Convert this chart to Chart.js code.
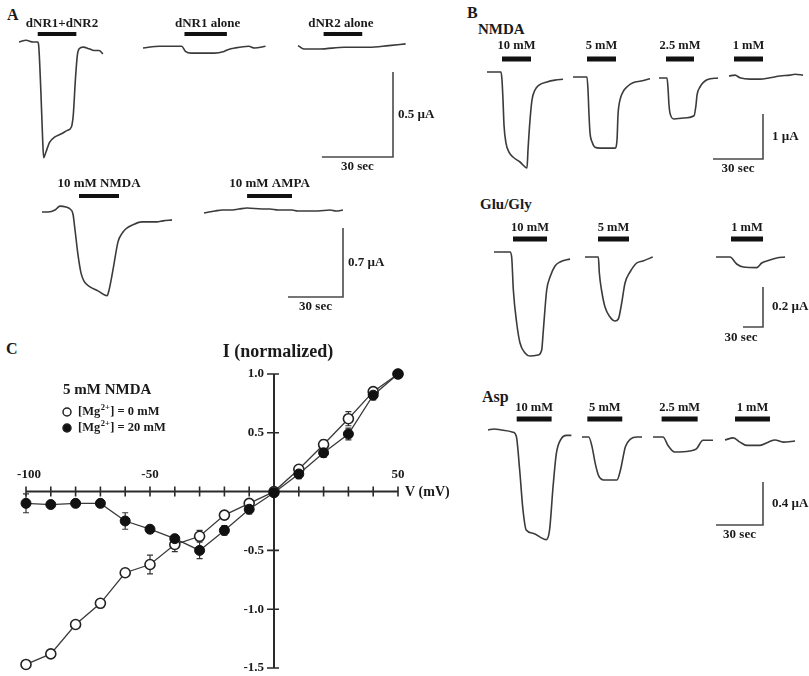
<!DOCTYPE html>
<html>
<head>
<meta charset="utf-8">
<script src="https://cdn.jsdelivr.net/npm/chart.js@4.4.1/dist/chart.umd.min.js"></script>
<style>
  body { margin: 0; background: #fff; }
  #fig { position: relative; width: 809px; height: 676px; overflow: hidden; background: #fff;
         font-family: "Liberation Serif", serif; font-weight: bold; color: #1a1a1a; }
  #fig canvas { position: absolute; }
  .t { position: absolute; white-space: nowrap; line-height: 1; }
</style>
</head>
<body>
<div id="fig">
  <div class="t" style="left:7px;top:7px;font-size:16px">A</div>
  <div class="t" style="left:467px;top:5px;font-size:16px">B</div>
  <div class="t" style="left:6px;top:341px;font-size:16px">C</div>
  <div class="t" style="left:478px;top:22px;font-size:15px">NMDA</div>
  <div class="t" style="left:480px;top:197px;font-size:15px">Glu/Gly</div>
  <div class="t" style="left:482px;top:389px;font-size:16px">Asp</div>
</div>
<script>
'use strict';

// ---- current traces: [time (sec), current (uA) relative to baseline] ----
var A_DNR12 = [[0,0],[3,0.01],[6,0],[7.9,0],[8.3,-0.02],[9.2,-0.28],[10,-0.58],[10.4,-0.68],[11.3,-0.65],
  [12.9,-0.59],[15,-0.56],[17.9,-0.54],[20.4,-0.52],[22.1,-0.5],[22.9,-0.43],[23.8,-0.22],[24.6,-0.08],
  [25.4,-0.04],[27.1,-0.03],[29.6,-0.04],[31.7,-0.05],[33.8,-0.05],[35.4,-0.07]];
var A_DNR1  = [[0,0],[7.1,0.01],[13.3,0.01],[16.3,0.01],[17.9,-0.02],[20.4,-0.03],[23.8,-0.03],[30,-0.03],
  [34.2,-0.02],[35.8,-0.01],[38.8,0],[44.6,0.01],[47.1,0],[51.7,0.01]];
var A_DNR2  = [[0,0.02],[2.5,0],[9.2,0],[19.6,0.01],[30,0.01],[38.3,0.02],[45.4,0.03]];
var A_NMDA  = [[0,0],[3.3,0],[7.1,0.02],[9.8,0.06],[13.1,0.05],[15.3,0.03],[16.9,-0.02],[18,-0.18],
  [19.6,-0.43],[21.3,-0.62],[22.9,-0.70],[26.2,-0.76],[30.5,-0.80],[35.5,-0.85],[36.6,-0.79],[38.7,-0.59],
  [41.5,-0.30],[43.6,-0.22],[45.8,-0.17],[49.6,-0.13],[54.5,-0.10],[58.9,-0.10],[62.7,-0.10],[66,-0.09],[70.9,-0.08]];
var A_AMPA  = [[0,-0.02],[6,0],[10,0.01],[14.2,0.01],[19,0.02],[23.5,0.03],[31.6,0.02],[36,0.02],[40.4,0.01],
  [48,0.01],[51,0],[55.1,0],[62.2,0],[68.7,0.01],[72,0],[75.8,0.01]];

var B_NMDA10 = [[0,0],[4.8,0],[8.4,0],[9,-0.18],[9.6,-0.62],[10.2,-1.18],[11.4,-1.58],[13.2,-1.78],[15.6,-1.89],
  [19.8,-2.0],[24,-2.13],[24.6,-1.73],[25.8,-1.07],[27,-0.62],[28.8,-0.4],[31.2,-0.29],[36,-0.22],[40.8,-0.18],[45.6,-0.16]];
var B_NMDA5  = [[0,0],[4.2,0],[8.4,0],[9,-0.29],[9.6,-0.84],[10.2,-1.24],[11.4,-1.44],[13.2,-1.56],[16.2,-1.58],
  [21,-1.58],[25.2,-1.58],[26.4,-1.4],[27,-0.84],[28.2,-0.51],[30,-0.33],[33,-0.2],[36,-0.13],[40.8,-0.09],[46.2,-0.04]];
var B_NMDA25 = [[0,0],[4.8,0],[5.4,-0.22],[6,-0.6],[6.6,-0.78],[9,-0.91],[14.4,-0.89],[21,-0.84],[22.2,-0.6],
  [22.8,-0.38],[24.6,-0.2],[28.8,-0.04],[35.4,0]];
var B_NMDA1  = [[0,0],[3.6,0.02],[6.6,-0.04],[12.6,-0.07],[18.6,-0.07],[24.6,-0.04],[30.6,0],[36.6,0.02],[39.6,0.04],[44.4,0.02]];

var B_GLU10 = [[0,0],[24,0],[26.5,-0.025],[29,-0.19],[34,-0.355],[39,-0.455],[46.5,-0.505],[54,-0.52],[66,-0.515],
  [71.5,-0.49],[74,-0.39],[79,-0.19],[84,-0.125],[91.5,-0.07],[99,-0.05],[114,-0.035]];
var B_GLU5  = [[0,0],[20,0],[21.5,-0.08],[25,-0.17],[30,-0.25],[37.5,-0.3],[45,-0.32],[50,-0.31],[55,-0.23],
  [60,-0.13],[67.5,-0.075],[77.5,-0.03],[87,-0.02],[101.5,0]];
var B_GLU1  = [[0,0],[21,0],[31,-0.035],[41,-0.05],[61,-0.053],[68.5,-0.03],[78.5,-0.017],[91,-0.005],[103.5,0]];

var B_ASP10 = [[0,0],[4,0.01],[8.5,0],[15.9,-0.02],[18.1,-0.06],[20.2,-0.37],[22.3,-0.74],[24.4,-0.93],[28.7,-0.96],
  [37.2,-1.02],[39.3,-0.93],[41.5,-0.53],[43.6,-0.22],[46.8,-0.08],[50,-0.05],[53.2,-0.05]];
var B_ASP5  = [[0,0],[4.3,0],[6.4,-0.09],[8.5,-0.25],[10.6,-0.36],[13.8,-0.4],[18.1,-0.4],[22.3,-0.4],[24.5,-0.31],
  [27.7,-0.09],[30.9,-0.02],[35.1,0],[38.3,0]];
var B_ASP25 = [[0,0],[6.4,0],[9.6,-0.08],[13.8,-0.14],[23.4,-0.13],[27.7,-0.11],[31.9,-0.03],[38.3,-0.03]];
var B_ASP1  = [[0,0],[5.3,0.02],[9.6,-0.02],[13.8,-0.05],[22.3,-0.05],[27.6,-0.02],[31.9,0],[37.2,-0.02],[44.7,-0.01]];

// ---- agonist application periods (sec from trace start) and their labels ----
var A1_BARS   = [[7.9,24.2],[17.5,35.4],[10.8,27.1]];
var A1_LABELS = ['dNR1+dNR2', 'dNR1 alone', 'dNR2 alone'];
var A2_BARS   = [[20.2,42.0],[23.5,48.0]];
var A2_LABELS = ['10 mM NMDA', '10 mM AMPA'];
var B1_BARS   = [[9.0,26.4],[8.4,25.8],[4.2,21.0],[3.0,20.4]];
var B1_LABELS = ['10 mM', '5 mM', '2.5 mM', '1 mM'];
var B2_BARS   = [[28.5,79.5],[19.5,66],[22.5,70.5]];
var B2_LABELS = ['10 mM', '5 mM', '1 mM'];
var B3_BARS   = [[18.3,40.6],[3.4,25.7],[5.5,28.5],[6.4,28.7]];
var B3_LABELS = ['10 mM', '5 mM', '2.5 mM', '1 mM'];

// ---- scale bars ----
var SCALE_SEC = 30;
var SCALE_UA  = [0.5, 0.7, 1, 0.2, 0.4];

// ---- I-V relation (panel C) ----
var IV_V        = [-100,-90,-80,-70,-60,-50,-40,-30,-20,-10,0,10,20,30,40,50];
var IV_MG0      = [-1.47,-1.38,-1.13,-0.95,-0.69,-0.62,-0.45,-0.38,-0.20,-0.10,0.0,0.19,0.40,0.62,0.85,1.0];
var IV_MG0_SEM  = [0,0,0,0,0,0.08,0.06,0.05,0,0,0,0.03,0.04,0.06,0.03,0];
var IV_MG20     = [-0.10,-0.11,-0.10,-0.10,-0.25,-0.32,-0.40,-0.50,-0.33,-0.15,-0.01,0.15,0.33,0.49,0.82,1.0];
var IV_MG20_SEM = [0.08,0.03,0.02,0,0.07,0.02,0.03,0.07,0.04,0.04,0,0.04,0.04,0.05,0.04,0];
var IV_XTICKS   = [-100,-90,-80,-70,-60,-50,-40,-30,-20,-10,0,10,20,30,40,50];
var IV_XLABELS  = [-100,-50,50];
var IV_YTICKS   = [1.0,0.5,-0.5,-1.0,-1.5];

// ---- layout (page pixels) ----
var FONT = '"Liberation Serif", serif';
var TEXT_COLOR  = '#1a1a1a';
var TRACE_COLOR = '#3b3b3b';

var ROWS = {
  A1: { left: 0,   top: 0,   width: 460, height: 175, pps: 2.37,  ppu: 170,   barY: 34,  barW: 4, labelGap: 10, font: 13 },
  A2: { left: 0,   top: 175, width: 440, height: 150, pps: 1.833, ppu: 98.6,  barY: 196, barW: 4, labelGap: 12, font: 13 },
  B1: { left: 470, top: 0,   width: 339, height: 185, pps: 1.667, ppu: 45,    barY: 59,  barW: 5, labelGap: 13, font: 12.5 },
  B2: { left: 470, top: 185, width: 339, height: 175, pps: 0.667, ppu: 200,   barY: 239, barW: 5, labelGap: 11, font: 12.5 },
  B3: { left: 470, top: 360, width: 339, height: 190, pps: 1.567, ppu: 107.5, barY: 419, barW: 5, labelGap: 11, font: 12.5 },
};

// trace left edge / baseline in page pixels, label nudges
var A1_POS = [[19,42],[143,48],[298,49]];
var A1_NUDGE = [5, 2, -2];
var A2_POS = [[42,212],[204,211]];
var B1_POS = [[487,72],[573,77],[659,78],[729,76]];
var B2_POS = [[494,252],[585,257],[716,257]];
var B3_POS = [[488,430],[582,437],[653,437],[725,440]];

function addCanvas(left, top, w, h) {
  var cv = document.createElement('canvas');
  cv.width = w; cv.height = h;
  cv.style.left = left + 'px';
  cv.style.top = top + 'px';
  document.getElementById('fig').appendChild(cv);
  return cv;
}

function makeRow(row, pos, traces, bars, labels, sb, nudge) {
  var cv = addCanvas(row.left, row.top, row.width, row.height);

  function xv(px, t) { return (px - row.left) / row.pps + t; }
  function yv(px, v) { return -(px - row.top) / row.ppu + v; }

  var datasets = [];
  traces.forEach(function(tr, i) {
    var p = pos[i];
    datasets.push({
      data: tr.map(function(d) { return { x: xv(p[0], d[0]), y: yv(p[1], d[1]) }; }),
      borderColor: TRACE_COLOR, borderWidth: 1.6, borderJoinStyle: 'round',
      cubicInterpolationMode: 'monotone', showLine: true, pointRadius: 0, clip: false,
    });
    datasets.push({
      data: [{ x: xv(p[0], bars[i][0]), y: yv(row.barY, 0) },
             { x: xv(p[0], bars[i][1]), y: yv(row.barY, 0) }],
      borderColor: '#111', borderWidth: row.barW, borderCapStyle: 'butt',
      showLine: true, pointRadius: 0, clip: false,
    });
  });

  var cx = xv(sb.corner[0], 0), cy = yv(sb.corner[1], 0);
  datasets.push({
    data: [{ x: cx - SCALE_SEC, y: cy }, { x: cx, y: cy }, { x: cx, y: cy + sb.ua }],
    borderColor: '#4a4a4a', borderWidth: 1.6, borderCapStyle: 'butt', borderJoinStyle: 'miter',
    showLine: true, pointRadius: 0, clip: false,
  });

  var textPlugin = {
    id: 'rowText',
    afterDatasetsDraw: function(chart) {
      var ctx = chart.ctx, xs = chart.scales.x, ys = chart.scales.y;
      ctx.save();
      ctx.fillStyle = TEXT_COLOR;
      ctx.textBaseline = 'middle';
      ctx.font = 'bold ' + row.font + 'px ' + FONT;
      ctx.textAlign = 'center';
      bars.forEach(function(b, i) {
        var mx = xs.getPixelForValue(xv(pos[i][0], (b[0] + b[1]) / 2)) + (nudge ? nudge[i] : 0);
        var by = ys.getPixelForValue(yv(row.barY, 0)) - row.labelGap;
        ctx.fillText(labels[i], mx, by);
      });
      ctx.font = 'bold 13px ' + FONT;
      var hx = xs.getPixelForValue(cx - SCALE_SEC / 2) + (sb.dx || 0);
      ctx.fillText(SCALE_SEC + ' sec', hx, ys.getPixelForValue(cy) + sb.down);
      ctx.textAlign = 'left';
      ctx.fillText(sb.ua + ' \u00b5A', xs.getPixelForValue(cx) + sb.gap, ys.getPixelForValue(cy + sb.ua / 2));
      ctx.restore();
    },
  };

  return new Chart(cv.getContext('2d'), {
    type: 'scatter',
    data: { datasets: datasets },
    options: {
      responsive: false,
      animation: false,
      events: [],
      layout: { padding: 0 },
      plugins: { legend: { display: false }, tooltip: { enabled: false } },
      scales: {
        x: { type: 'linear', display: false, min: 0, max: row.width / row.pps },
        y: { type: 'linear', display: false, min: -row.height / row.ppu, max: 0 },
      },
    },
    plugins: [textPlugin],
  });
}

makeRow(ROWS.A1, A1_POS, [A_DNR12, A_DNR1, A_DNR2], A1_BARS, A1_LABELS,
        { corner: [393,157], ua: SCALE_UA[0], gap: 5, down: 10 }, A1_NUDGE);
makeRow(ROWS.A2, A2_POS, [A_NMDA, A_AMPA], A2_BARS, A2_LABELS,
        { corner: [343,297], ua: SCALE_UA[1], gap: 5, down: 10 });
makeRow(ROWS.B1, B1_POS, [B_NMDA10, B_NMDA5, B_NMDA25, B_NMDA1], B1_BARS, B1_LABELS,
        { corner: [763,159], ua: SCALE_UA[2], gap: 9, down: 10 });
makeRow(ROWS.B2, B2_POS, [B_GLU10, B_GLU5, B_GLU1], B2_BARS, B2_LABELS,
        { corner: [763,327], ua: SCALE_UA[3], gap: 9, down: 11, dx: -12 });
makeRow(ROWS.B3, B3_POS, [B_ASP10, B_ASP5, B_ASP25, B_ASP1], B3_BARS, B3_LABELS,
        { corner: [763,525], ua: SCALE_UA[4], gap: 9, down: 10 });

// ---- panel C: I-V plot ----
function ivPoints(ys) {
  return IV_V.map(function(v, i) { return { x: v, y: ys[i] }; });
}

var ivPlugin = {
  id: 'ivAxes',
  beforeDatasetsDraw: function(chart) {
    var ctx = chart.ctx, xs = chart.scales.x, ys = chart.scales.y;
    var x0 = xs.getPixelForValue(0), y0 = ys.getPixelForValue(0);
    ctx.save();
    ctx.strokeStyle = '#2a2a2a';
    ctx.lineWidth = 2;
    ctx.beginPath();
    ctx.moveTo(xs.getPixelForValue(IV_XTICKS[0]), y0);
    ctx.lineTo(xs.getPixelForValue(IV_XTICKS[IV_XTICKS.length - 1]), y0);
    ctx.moveTo(x0, ys.getPixelForValue(IV_YTICKS[0]));
    ctx.lineTo(x0, ys.getPixelForValue(IV_YTICKS[IV_YTICKS.length - 1]));
    ctx.stroke();

    ctx.lineWidth = 1.6;
    ctx.beginPath();
    IV_XTICKS.forEach(function(v) {
      var px = xs.getPixelForValue(v);
      ctx.moveTo(px, y0 - 5); ctx.lineTo(px, y0 + 5);
    });
    IV_YTICKS.forEach(function(v) {
      var py = ys.getPixelForValue(v);
      ctx.moveTo(x0 - 7, py); ctx.lineTo(x0 + 5, py);
    });
    ctx.stroke();

    // error bars
    ctx.strokeStyle = '#333';
    ctx.lineWidth = 1.2;
    ctx.beginPath();
    [[IV_MG0, IV_MG0_SEM], [IV_MG20, IV_MG20_SEM]].forEach(function(s) {
      IV_V.forEach(function(v, i) {
        var e = s[1][i];
        if (!e) return;
        var px = xs.getPixelForValue(v);
        var top = ys.getPixelForValue(s[0][i] + e), bot = ys.getPixelForValue(s[0][i] - e);
        ctx.moveTo(px, top); ctx.lineTo(px, bot);
        ctx.moveTo(px - 3, top); ctx.lineTo(px + 3, top);
        ctx.moveTo(px - 3, bot); ctx.lineTo(px + 3, bot);
      });
    });
    ctx.stroke();

    // tick labels
    ctx.fillStyle = TEXT_COLOR;
    ctx.font = 'bold 13px ' + FONT;
    ctx.textAlign = 'center';
    ctx.textBaseline = 'middle';
    IV_XLABELS.forEach(function(v, i) {
      ctx.fillText(String(v), xs.getPixelForValue(v) + (i === 0 ? 3 : 0), y0 - 17);
    });
    ctx.textAlign = 'right';
    IV_YTICKS.forEach(function(v) {
      ctx.fillText(v.toFixed(1), x0 - 10, ys.getPixelForValue(v));
    });
    ctx.textAlign = 'left';
    ctx.font = 'bold 14px ' + FONT;
    ctx.fillText('V (mV)', xs.getPixelForValue(IV_XTICKS[IV_XTICKS.length - 1]) + 7, y0 + 1);
    ctx.font = 'bold 18px ' + FONT;
    ctx.textAlign = 'center';
    ctx.fillText('I (normalized)', x0 + 4, ys.getPixelForValue(IV_YTICKS[0]) - 22);
    ctx.restore();
  },
  afterDatasetsDraw: function(chart) {
    var ctx = chart.ctx;
    ctx.save();
    ctx.fillStyle = TEXT_COLOR;
    ctx.textBaseline = 'middle';
    ctx.textAlign = 'left';
    ctx.font = 'bold 15px ' + FONT;
    ctx.fillText('5 mM NMDA', 63, 390 - 335);

    var items = [['0 mM', '#fff', 412], ['20 mM', '#111', 428]];
    items.forEach(function(it) {
      var y = it[2] - 335;
      ctx.beginPath();
      ctx.arc(67, y, 4, 0, Math.PI * 2);
      ctx.fillStyle = it[1];
      ctx.fill();
      ctx.lineWidth = 1.5;
      ctx.strokeStyle = '#222';
      ctx.stroke();
      ctx.fillStyle = TEXT_COLOR;
      var x = 78;
      ctx.font = 'bold 12.5px ' + FONT;
      ctx.fillText('[Mg', x, y);
      x += ctx.measureText('[Mg').width;
      ctx.font = 'bold 8.5px ' + FONT;
      ctx.fillText('2+', x + 0.5, y - 4);
      x += ctx.measureText('2+').width + 1;
      ctx.font = 'bold 12.5px ' + FONT;
      ctx.fillText('] = ' + it[0], x, y);
    });
    ctx.restore();
  },
};

var ivCanvas = addCanvas(0, 335, 460, 341);
new Chart(ivCanvas.getContext('2d'), {
  type: 'scatter',
  data: {
    datasets: [
      {
        label: '[Mg2+] = 20 mM',
        data: ivPoints(IV_MG20),
        showLine: true, clip: false,
        borderColor: '#3a3a3a', borderWidth: 1.3,
        pointRadius: 5, pointBackgroundColor: '#111', pointBorderColor: '#111', pointBorderWidth: 1,
      },
      {
        label: '[Mg2+] = 0 mM',
        data: ivPoints(IV_MG0),
        showLine: true, clip: false,
        borderColor: '#3a3a3a', borderWidth: 1.3,
        pointRadius: 5, pointBackgroundColor: '#fff', pointBorderColor: '#222', pointBorderWidth: 1.6,
      },
    ],
  },
  options: {
    responsive: false,
    animation: false,
    events: [],
    layout: { padding: { left: 26, right: 62, top: 39, bottom: 8 } },
    plugins: { legend: { display: false }, tooltip: { enabled: false } },
    scales: {
      x: { type: 'linear', display: false, min: -100, max: 50 },
      y: { type: 'linear', display: false, min: -1.5, max: 1.0 },
    },
  },
  plugins: [ivPlugin],
});
</script>
</body>
</html>
